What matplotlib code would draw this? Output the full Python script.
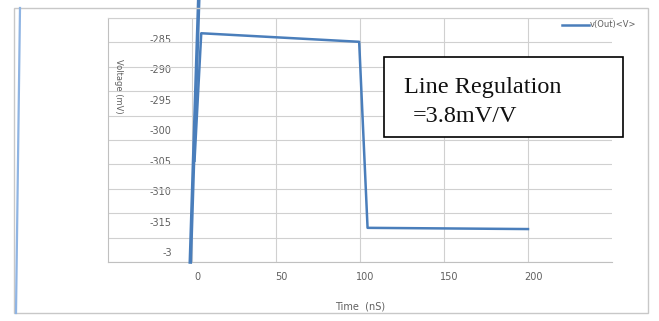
import numpy as np
import matplotlib
matplotlib.use('Agg')
import matplotlib.pyplot as plt
from matplotlib.lines import Line2D
from matplotlib.patches import Rectangle
import matplotlib.transforms as mtransforms

# data (time in nS, voltage in mV)
time_ns = [1.5, 5.5, 99.5, 104.5, 200]
v_out = [-305.0, -284.1, -285.5, -316.0, -316.2]
spike_t = [-1.0, 4.0]
spike_v = [-321.6, -278.6]

y_labels = ['-285', '-290', '-295', '-300', '-305', '-310', '-315', '-3']
y_label_vals = [-285, -290, -295, -300, -305, -310, -315, -320]
x_ticks = [0, 50, 100, 150, 200]

W, H = 659, 321
fig = plt.figure(figsize=(W / 100, H / 100), dpi=100)
fig.patch.set_facecolor('white')

# outer frame and stray line at the left edge
fig.patches.append(Rectangle((14 / W, 1 - 313 / H), (648 - 14) / W, (313 - 8) / H,
                             transform=fig.transFigure, fill=False,
                             edgecolor='#c8c8c8', linewidth=1.0))
fig.lines.append(Line2D([20 / W, 16 / W], [1 - 8 / H, 1 - 313 / H],
                        transform=fig.transFigure, color='#8fb4e3', linewidth=1.6))

ax = fig.add_axes([108 / W, 1 - 262 / H, (612 - 108) / W, (262 - 18) / H])
ax.set_xlim(-50, 250)
ax.set_ylim(-321.6, -281.6)

blue = '#4a7ebb'
ax.plot(spike_t, spike_v, color=blue, linewidth=2.6, clip_on=False, zorder=3)
ax.plot(time_ns, v_out, color=blue, linewidth=1.8, label='v(Out)<V>', zorder=3)

# horizontal gridlines via minor ticks, labels via major ticks
ax.set_yticks(np.arange(-321.6, -281.5, 4.0), minor=True)
ax.set_yticks(y_label_vals)
ax.set_yticklabels(y_labels)
ax.set_xticks(x_ticks)
ax.grid(False, which='major', axis='y')
ax.grid(True, which='major', axis='x', color='#d0d0d0', linewidth=0.8)
ax.grid(True, which='minor', axis='y', color='#d0d0d0', linewidth=0.8)
ax.tick_params(which='both', length=0)
ax.tick_params(axis='y', pad=-46, labelsize=7, labelcolor='#606060')
ax.tick_params(axis='x', pad=7, labelsize=7, labelcolor='#606060')
for lab in ax.get_yticklabels():
    lab.set_horizontalalignment('right')
off = mtransforms.ScaledTranslation(5 / 100, 0, fig.dpi_scale_trans)
for lab in ax.get_xticklabels():
    lab.set_transform(lab.get_transform() + off)

ax.spines['right'].set_visible(False)
ax.spines['top'].set_color('#d0d0d0')
ax.spines['left'].set_color('#c0c0c0')
ax.spines['bottom'].set_color('#c0c0c0')

ax.set_xlabel('Time  (nS)', fontsize=7, color='#606060', labelpad=14)
fig.text(118 / W, 1 - 86 / H, 'Voltage (mV)', rotation=-90, fontsize=6,
         color='#606060', ha='center', va='center')

ax.legend(loc='center right', bbox_to_anchor=(644 / W, 1 - 25 / H),
          bbox_transform=fig.transFigure, frameon=False, fontsize=6,
          handlelength=3.3, handletextpad=0.1, labelcolor='#606060')

# annotation box
fig.patches.append(Rectangle((384 / W, 1 - 137 / H), (623 - 384) / W, (137 - 57) / H,
                             transform=fig.transFigure, facecolor='white',
                             edgecolor='black', linewidth=1.2, zorder=5))
fig.text(404 / W, 1 - 93 / H, 'Line Regulation', fontsize=17.5,
         family='Liberation Serif', color='#111111', va='baseline', zorder=6)
fig.text(413 / W, 1 - 122 / H, '=3.8mV/V', fontsize=17.5,
         family='Liberation Serif', color='#111111', va='baseline', zorder=6)

fig.savefig('out.png', dpi=100)
